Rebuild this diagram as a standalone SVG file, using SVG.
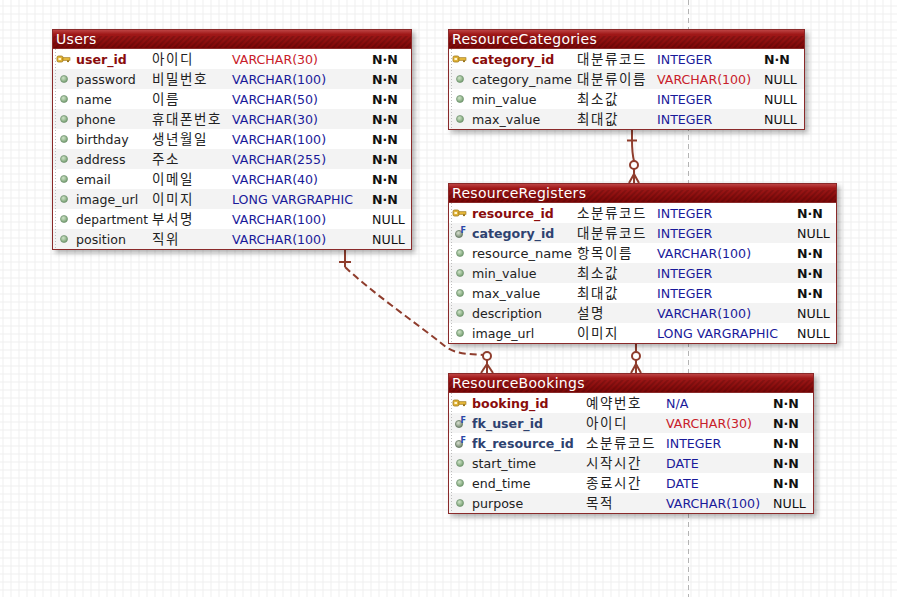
<svg xmlns="http://www.w3.org/2000/svg" xmlns:xlink="http://www.w3.org/1999/xlink" width="897" height="597" viewBox="0 0 897 597">
<style>
.t{font-family:"DejaVu Sans",sans-serif;font-size:12.6px;fill:#222}
.ttl{font-family:"DejaVu Sans",sans-serif;font-size:14px;fill:#fff;letter-spacing:0.3px}
.ko{font-family:"Noto Sans CJK KR","Noto Sans CJK SC",sans-serif;font-size:13.5px;fill:#222;letter-spacing:1.6px}
.pk{font-weight:bold;fill:#8a0c0c}
.fk{font-weight:bold;fill:#2e4270}
.ty{fill:#1a1a9a}
.tr{fill:#c8202a}
.nn{font-weight:bold;fill:#111}
.nl{fill:#111}
.box{fill:#fff;stroke:#8a2a2a;stroke-width:1}
.shd{fill:#fff;filter:url(#sh)}
.hdr{fill:url(#hg);stroke:#8a2a2a;stroke-width:1}
.hst{fill:url(#stripes)}
.alt{fill:#f3f3f3}
.dl{stroke:#bdbdbd;stroke-width:1;stroke-dasharray:1 2}
.dot{fill:url(#dg);stroke:#6f916f;stroke-width:0.7}
.cn{fill:none;stroke:#8f3d2d;stroke-width:2}
</style>
<defs>
<pattern id="grid" width="8" height="8" patternUnits="userSpaceOnUse" x="2.5" y="5.5">
<path d="M0.5 0 V8 M0 0.5 H8" stroke="#efefef" stroke-width="1" fill="none"/>
</pattern>
<pattern id="stripes" width="4" height="4" patternUnits="userSpaceOnUse" patternTransform="rotate(45)">
<rect width="2" height="4" fill="#000" fill-opacity="0.14"/>
</pattern>
<linearGradient id="hg" x1="0" y1="0" x2="0" y2="1">
<stop offset="0" stop-color="#c04848"/>
<stop offset="0.25" stop-color="#a01818"/>
<stop offset="1" stop-color="#7a0606"/>
</linearGradient>
<radialGradient id="dg" cx="0.4" cy="0.35" r="0.7">
<stop offset="0" stop-color="#cfe3c8"/>
<stop offset="1" stop-color="#6f9a6a"/>
</radialGradient>
<radialGradient id="fg" cx="0.4" cy="0.35" r="0.7">
<stop offset="0" stop-color="#d8e0d0"/>
<stop offset="1" stop-color="#6a7f66"/>
</radialGradient>
<filter id="sh" x="-5%" y="-5%" width="115%" height="120%">
<feDropShadow dx="3" dy="3" stdDeviation="2.5" flood-color="#000" flood-opacity="0.3"/>
</filter>
<g id="key">
<rect x="-7" y="-3" width="6" height="6" rx="1.5" fill="#e2b53a" stroke="#9c7414" stroke-width="0.8"/>
<rect x="-5.5" y="-1" width="2.5" height="2" fill="#fff6d0"/>
<rect x="-1" y="-1.3" width="7" height="2.6" fill="#e2b53a" stroke="#9c7414" stroke-width="0.6"/>
<rect x="3" y="1.3" width="2" height="1.8" fill="#9c7414"/>
</g>
<g id="dot"><circle cx="0" cy="0" r="3.5" class="dot"/></g>
<g id="fki">
<circle cx="-1" cy="1" r="3.6" fill="url(#fg)" stroke="#5f735c" stroke-width="0.7"/>
<text x="0.5" y="0" style="font-family:'DejaVu Sans',sans-serif;font-size:8px;font-weight:bold;fill:#2a48a8">F</text>
</g>
</defs>

<rect width="897" height="597" fill="#fff"/>
<rect width="897" height="597" fill="url(#grid)"/>
<line x1="688.5" y1="0" x2="688.5" y2="597" stroke="#b4b4b4" stroke-width="1" stroke-dasharray="5 4"/>

<g id="connectors">
<path class="cn" d="M345 250 V267"/>
<path class="cn" d="M339 262 H351"/>
<path class="cn" d="M345 267 C 375 295, 415 322, 446 347 C 456 354, 468 354, 483 355" stroke-dasharray="7 4"/>
<circle class="cn" cx="487" cy="356" r="4" style="fill:#fff"/>
<path class="cn" d="M487 360 V373 M487 364 L481 373 M487 364 L493 373"/>
<path class="cn" d="M632 130 V140"/>
<path class="cn" d="M627 140.5 H637"/>
<path class="cn" d="M632 140 Q632 153 634 161"/>
<circle class="cn" cx="634" cy="165" r="4" style="fill:#fff"/>
<path class="cn" d="M634 169 V183 M634 174 L629 183 M634 174 L639 183"/>
<path class="cn" d="M636 343 V352"/>
<circle class="cn" cx="636" cy="356" r="4" style="fill:#fff"/>
<path class="cn" d="M636 360 V373 M636 364 L631 373 M636 364 L641 373"/>
</g>

<g id="Users">
<rect class="shd" x="52" y="29" width="360" height="221"/>
<rect class="box" x="52.5" y="29.5" width="359" height="220"/>
<rect class="alt" x="53" y="69" width="358" height="20"/>
<rect class="alt" x="53" y="109" width="358" height="20"/>
<rect class="alt" x="53" y="149" width="358" height="20"/>
<rect class="alt" x="53" y="189" width="358" height="20"/>
<rect class="alt" x="53" y="229" width="358" height="20"/>
<line class="dl" x1="55.5" y1="49" x2="55.5" y2="249"/>
<rect class="hdr" x="52.5" y="29.5" width="359" height="19"/>
<rect class="hst" x="53" y="36" width="358" height="12"/>
<text class="ttl" x="56" y="44">Users</text>
<use href="#key" x="64" y="59"/>
<use href="#dot" x="64" y="79"/><use href="#dot" x="64" y="99"/><use href="#dot" x="64" y="119"/><use href="#dot" x="64" y="139"/><use href="#dot" x="64" y="159"/><use href="#dot" x="64" y="179"/><use href="#dot" x="64" y="199"/><use href="#dot" x="64" y="219"/><use href="#dot" x="64" y="239"/>
<text class="t pk" x="76" y="64">user_id</text><text class="ko" x="152" y="64">아이디</text><text class="t tr" x="232" y="64">VARCHAR(30)</text><text class="t nn" x="372" y="64">N·N</text>
<text class="t" x="76" y="84">password</text><text class="ko" x="152" y="84">비밀번호</text><text class="t ty" x="232" y="84">VARCHAR(100)</text><text class="t nn" x="372" y="84">N·N</text>
<text class="t" x="76" y="104">name</text><text class="ko" x="152" y="104">이름</text><text class="t ty" x="232" y="104">VARCHAR(50)</text><text class="t nn" x="372" y="104">N·N</text>
<text class="t" x="76" y="124">phone</text><text class="ko" x="152" y="124">휴대폰번호</text><text class="t ty" x="232" y="124">VARCHAR(30)</text><text class="t nn" x="372" y="124">N·N</text>
<text class="t" x="76" y="144">birthday</text><text class="ko" x="152" y="144">생년월일</text><text class="t ty" x="232" y="144">VARCHAR(100)</text><text class="t nn" x="372" y="144">N·N</text>
<text class="t" x="76" y="164">address</text><text class="ko" x="152" y="164">주소</text><text class="t ty" x="232" y="164">VARCHAR(255)</text><text class="t nn" x="372" y="164">N·N</text>
<text class="t" x="76" y="184">email</text><text class="ko" x="152" y="184">이메일</text><text class="t ty" x="232" y="184">VARCHAR(40)</text><text class="t nn" x="372" y="184">N·N</text>
<text class="t" x="76" y="204">image_url</text><text class="ko" x="152" y="204">이미지</text><text class="t ty" x="232" y="204">LONG VARGRAPHIC</text><text class="t nn" x="372" y="204">N·N</text>
<text class="t" x="76" y="224" textLength="72" lengthAdjust="spacingAndGlyphs">department</text><text class="ko" x="152" y="224">부서명</text><text class="t ty" x="232" y="224">VARCHAR(100)</text><text class="t nl" x="372" y="224">NULL</text>
<text class="t" x="76" y="244">position</text><text class="ko" x="152" y="244">직위</text><text class="t ty" x="232" y="244">VARCHAR(100)</text><text class="t nl" x="372" y="244">NULL</text>
</g>

<g id="ResourceCategories">
<rect class="shd" x="448" y="29" width="357" height="101"/>
<rect class="box" x="448.5" y="29.5" width="356" height="100"/>
<rect class="alt" x="449" y="69" width="355" height="20"/>
<rect class="alt" x="449" y="109" width="355" height="20"/>
<line class="dl" x1="451.5" y1="49" x2="451.5" y2="129"/>
<rect class="hdr" x="448.5" y="29.5" width="356" height="19"/>
<rect class="hst" x="449" y="36" width="355" height="12"/>
<text class="ttl" x="452" y="44">ResourceCategories</text>
<use href="#key" x="460" y="59"/>
<use href="#dot" x="460" y="79"/><use href="#dot" x="460" y="99"/><use href="#dot" x="460" y="119"/>
<text class="t pk" x="472" y="64">category_id</text><text class="ko" x="577" y="64">대분류코드</text><text class="t ty" x="657" y="64">INTEGER</text><text class="t nn" x="764" y="64">N·N</text>
<text class="t" x="472" y="84" textLength="100" lengthAdjust="spacingAndGlyphs">category_name</text><text class="ko" x="577" y="84">대분류이름</text><text class="t tr" x="657" y="84">VARCHAR(100)</text><text class="t nl" x="764" y="84">NULL</text>
<text class="t" x="472" y="104">min_value</text><text class="ko" x="577" y="104">최소값</text><text class="t ty" x="657" y="104">INTEGER</text><text class="t nl" x="764" y="104">NULL</text>
<text class="t" x="472" y="124">max_value</text><text class="ko" x="577" y="124">최대값</text><text class="t ty" x="657" y="124">INTEGER</text><text class="t nl" x="764" y="124">NULL</text>
</g>

<g id="ResourceRegisters">
<rect class="shd" x="448" y="183" width="389" height="161"/>
<rect class="box" x="448.5" y="183.5" width="388" height="160"/>
<rect class="alt" x="449" y="223" width="387" height="20"/>
<rect class="alt" x="449" y="263" width="387" height="20"/>
<rect class="alt" x="449" y="303" width="387" height="20"/>
<line class="dl" x1="451.5" y1="203" x2="451.5" y2="343"/>
<rect class="hdr" x="448.5" y="183.5" width="388" height="19"/>
<rect class="hst" x="449" y="190" width="387" height="12"/>
<text class="ttl" x="452" y="198">ResourceRegisters</text>
<use href="#key" x="460" y="213"/>
<use href="#fki" x="460" y="233"/>
<use href="#dot" x="460" y="253"/><use href="#dot" x="460" y="273"/><use href="#dot" x="460" y="293"/><use href="#dot" x="460" y="313"/><use href="#dot" x="460" y="333"/>
<text class="t pk" x="472" y="218">resource_id</text><text class="ko" x="577" y="218">소분류코드</text><text class="t ty" x="657" y="218">INTEGER</text><text class="t nn" x="797" y="218">N·N</text>
<text class="t fk" x="472" y="238">category_id</text><text class="ko" x="577" y="238">대분류코드</text><text class="t ty" x="657" y="238">INTEGER</text><text class="t nl" x="797" y="238">NULL</text>
<text class="t" x="472" y="258" textLength="100" lengthAdjust="spacingAndGlyphs">resource_name</text><text class="ko" x="577" y="258">항목이름</text><text class="t ty" x="657" y="258">VARCHAR(100)</text><text class="t nn" x="797" y="258">N·N</text>
<text class="t" x="472" y="278">min_value</text><text class="ko" x="577" y="278">최소값</text><text class="t ty" x="657" y="278">INTEGER</text><text class="t nn" x="797" y="278">N·N</text>
<text class="t" x="472" y="298">max_value</text><text class="ko" x="577" y="298">최대값</text><text class="t ty" x="657" y="298">INTEGER</text><text class="t nn" x="797" y="298">N·N</text>
<text class="t" x="472" y="318">description</text><text class="ko" x="577" y="318">설명</text><text class="t ty" x="657" y="318">VARCHAR(100)</text><text class="t nl" x="797" y="318">NULL</text>
<text class="t" x="472" y="338">image_url</text><text class="ko" x="577" y="338">이미지</text><text class="t ty" x="657" y="338">LONG VARGRAPHIC</text><text class="t nl" x="797" y="338">NULL</text>
</g>

<g id="ResourceBookings">
<rect class="shd" x="448" y="373" width="366" height="141"/>
<rect class="box" x="448.5" y="373.5" width="365" height="140"/>
<rect class="alt" x="449" y="413" width="364" height="20"/>
<rect class="alt" x="449" y="453" width="364" height="20"/>
<rect class="alt" x="449" y="493" width="364" height="20"/>
<line class="dl" x1="451.5" y1="393" x2="451.5" y2="513"/>
<rect class="hdr" x="448.5" y="373.5" width="365" height="19"/>
<rect class="hst" x="449" y="380" width="364" height="12"/>
<text class="ttl" x="452" y="388">ResourceBookings</text>
<use href="#key" x="460" y="403"/>
<use href="#fki" x="460" y="423"/><use href="#fki" x="460" y="443"/>
<use href="#dot" x="460" y="463"/><use href="#dot" x="460" y="483"/><use href="#dot" x="460" y="503"/>
<text class="t pk" x="472" y="408">booking_id</text><text class="ko" x="586" y="408">예약번호</text><text class="t ty" x="666" y="408">N/A</text><text class="t nn" x="773" y="408">N·N</text>
<text class="t fk" x="472" y="428">fk_user_id</text><text class="ko" x="586" y="428">아이디</text><text class="t tr" x="666" y="428">VARCHAR(30)</text><text class="t nn" x="773" y="428">N·N</text>
<text class="t fk" x="472" y="448">fk_resource_id</text><text class="ko" x="586" y="448">소분류코드</text><text class="t ty" x="666" y="448">INTEGER</text><text class="t nn" x="773" y="448">N·N</text>
<text class="t" x="472" y="468">start_time</text><text class="ko" x="586" y="468">시작시간</text><text class="t ty" x="666" y="468">DATE</text><text class="t nn" x="773" y="468">N·N</text>
<text class="t" x="472" y="488">end_time</text><text class="ko" x="586" y="488">종료시간</text><text class="t ty" x="666" y="488">DATE</text><text class="t nn" x="773" y="488">N·N</text>
<text class="t" x="472" y="508">purpose</text><text class="ko" x="586" y="508">목적</text><text class="t ty" x="666" y="508">VARCHAR(100)</text><text class="t nl" x="773" y="508">NULL</text>
</g>
</svg>
